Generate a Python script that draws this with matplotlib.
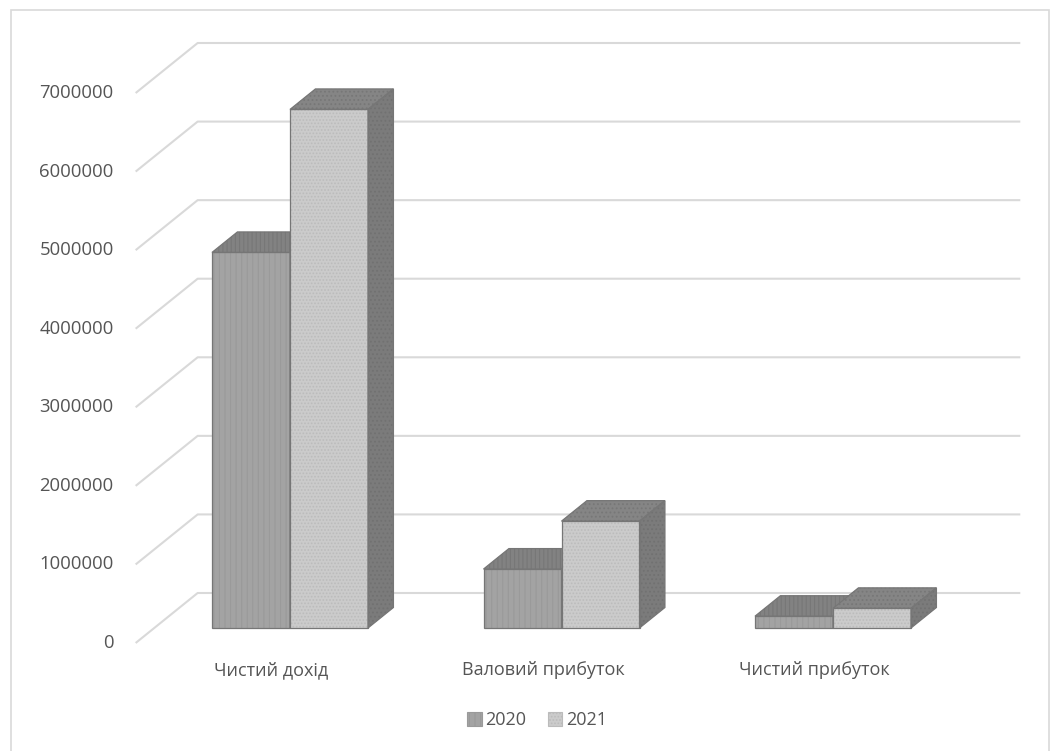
import matplotlib.pyplot as plt
from matplotlib.patches import Polygon, Patch, Rectangle

categories = ['Чистий дохід', 'Валовий прибуток', 'Чистий прибуток']
years = ['2020', '2021']
values_2020 = [4780000, 750000, 150000]
values_2021 = [6600000, 1360000, 250000]
y_ticks = [0, 1000000, 2000000, 3000000, 4000000, 5000000, 6000000, 7000000]

plt.rcParams['font.family'] = ['Open Sans', 'DejaVu Sans']
plt.rcParams['hatch.linewidth'] = 0.8
txt = '#555555'
grid = '#d9d9d9'

W, H = 1054, 751
fig = plt.figure(figsize=(W / 100, H / 100), dpi=100)
ax = fig.add_axes([0, 0, 1, 1])
ax.axis('off')

# pixel scale: one category step along x, one unit of value along y
sx = 271.5
sy = 78.57e-6
x0_px, y0_px = 271.4, 643
ax.set_xlim(-x0_px / sx, (W - x0_px) / sx)
ax.set_ylim(-(H - y0_px) / sy, y0_px / sy)

# oblique offset of the full floor depth (front -> back wall)
ddx = 62 / sx
ddy = 50 / sy
x_left, x_right = -0.5, 2.53

# side wall diagonals + back wall gridlines
for t in y_ticks:
    ax.plot([x_left, x_left + ddx, x_right + ddx], [t, t + ddy, t + ddy],
            color=grid, lw=1.5, zorder=1, solid_capstyle='butt')
    ax.text(x_left - 22 / sx, t, str(t), ha='right', va='center',
            fontsize=13.3, color=txt)


def face(pts, fc, hc, hatch, z):
    ax.add_patch(Polygon(pts, closed=True, facecolor=fc, edgecolor=hc,
                         lw=0, hatch=hatch, zorder=z))
    ax.add_patch(Polygon(pts, closed=True, fill=False, edgecolor='#767676',
                         lw=0.9, zorder=z + 0.1))


def box(xl, w, h, style, z):
    d0, d1 = 0.30, 0.71
    a0, b0 = d0 * ddx, d0 * ddy
    a1, b1 = d1 * ddx, d1 * ddy
    xr = xl + w
    front = [(xl + a0, b0), (xr + a0, b0), (xr + a0, h + b0), (xl + a0, h + b0)]
    top = [(xl + a0, h + b0), (xr + a0, h + b0), (xr + a1, h + b1), (xl + a1, h + b1)]
    side = [(xr + a0, b0), (xr + a1, b1), (xr + a1, h + b1), (xr + a0, h + b0)]
    face(front, style['front'], style['front_h'], style['hatch'], z)
    face(top, style['top'], style['top_h'], style['top_hatch'], z)
    face(side, style['side'], style['side_h'], style['top_hatch'], z)


styles = {
    '2020': dict(front='#a3a3a3', front_h='#9a9a9a', hatch='|||',
                 top='#828282', top_h='#777777', top_hatch='||||',
                 side='#7d7d7d', side_h='#747474'),
    '2021': dict(front='#cbcbcb', front_h='#bbbbbb', hatch='.....',
                 top='#858585', top_h='#777777', top_hatch='....',
                 side='#7b7b7b', side_h='#717171'),
}

bw = 78 / sx
for i, cat in enumerate(categories):
    box(i - bw, bw, values_2020[i], styles['2020'], 3 + i)
    box(i, bw, values_2021[i], styles['2021'], 3.5 + i)
    ax.text(i, -27 / sy, cat, ha='center', va='center', fontsize=13, color=txt)

# chart area border
fig.add_artist(Rectangle((11 / W, -0.01), (1049 - 11) / W, (H - 10) / H + 0.01,
                         transform=fig.transFigure, fill=False,
                         edgecolor=grid, lw=1.2))

handles = [Patch(facecolor=styles[y]['front'], edgecolor=styles[y]['front_h'],
                 hatch=styles[y]['hatch'], lw=0.8) for y in years]
fig.legend(handles, years, loc='center', bbox_to_anchor=(537 / W, 1 - 720 / H),
           ncol=2, frameon=False, fontsize=13, labelcolor=txt,
           handlelength=0.8, handleheight=0.8, handletextpad=0.2,
           columnspacing=1.2)

fig.savefig('out.png', dpi=100)
